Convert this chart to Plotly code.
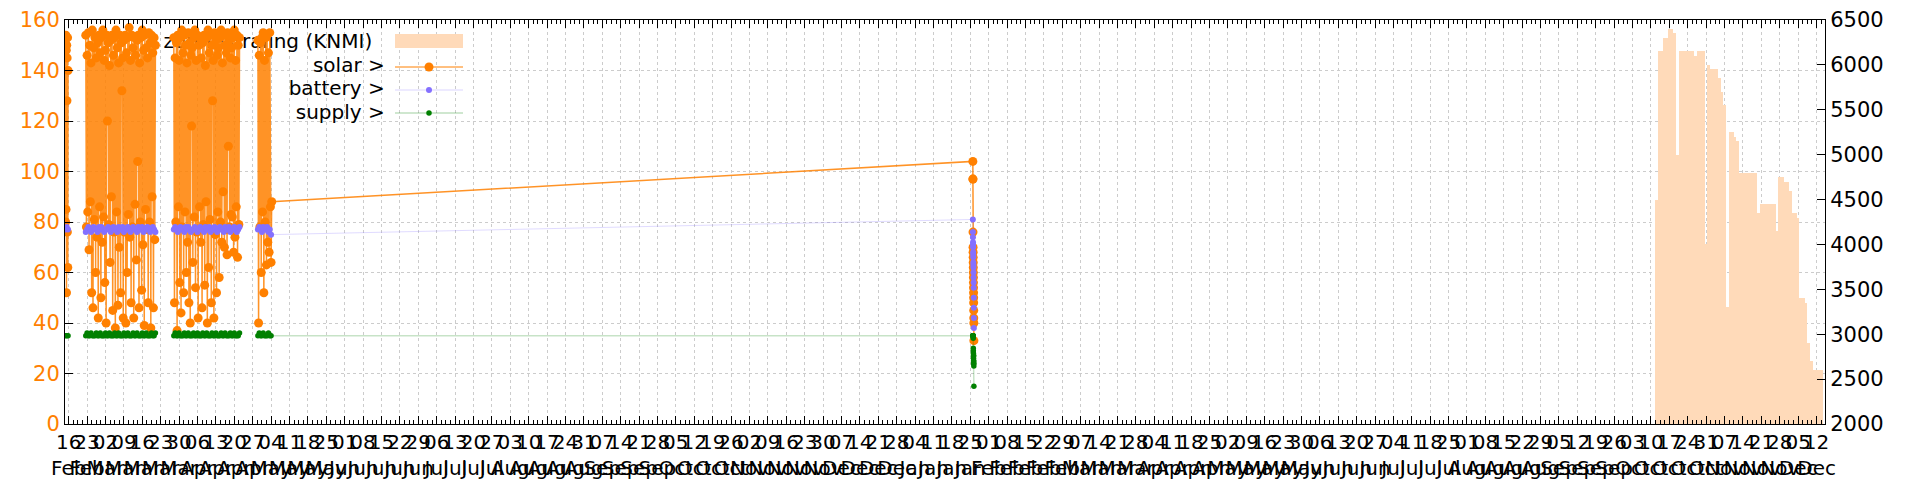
import pandas as pd
import plotly.graph_objects as go

# ---------------- data ----------------
# solar (W) — four measurement blocks in 2023 plus one short block in Jan 2024
solar_A_start, solar_A_freq = "2023-02-14 18:00", "2h"
solar_A = [152, 80, 154, 85, 148, 52, 150, 128, 145, 76, 153, 62, 140]

solar_B_start, solar_B_freq = "2023-02-22 12:00", "6h"
solar_B = [154, 78, 146, 84, 155, 69, 150, 88, 143, 52, 156, 46, 149, 81, 153, 60, 145, 74, 151, 42,
           154, 86, 147, 50, 153, 72, 156, 82, 144, 56, 148, 40, 154, 120, 151, 79, 142, 64, 152, 90,
           154, 45, 146, 76, 153, 38, 156, 84, 149, 47, 143, 70, 154, 52, 151, 132, 145, 42, 152, 76,
           154, 40, 147, 60, 153, 83, 157, 74, 144, 48, 154, 78, 149, 42, 153, 87, 146, 65, 152, 104,
           154, 46, 143, 80, 153, 53, 156, 71, 148, 39, 154, 85, 149, 77, 145, 48, 155, 80, 151, 38,
           154, 90, 147, 46, 153, 73, 150]

solar_C_start, solar_C_freq = "2023-03-28 00:00", "6h"
solar_C = [153, 48, 145, 80, 151, 37, 154, 86, 144, 56, 153, 44, 156, 78, 147, 52, 154, 84, 150, 60,
           143, 72, 155, 48, 151, 40, 146, 118, 149, 64, 153, 82, 156, 54, 144, 76, 154, 42, 150, 86,
           153, 72, 145, 46, 151, 79, 154, 55, 142, 88, 153, 40, 156, 62, 147, 81, 154, 48, 150, 128,
           144, 42, 155, 75, 152, 52, 146, 84, 149, 58, 153, 80, 156, 72, 143, 92, 154, 70, 150, 77,
           147, 67, 155, 110, 152, 78, 145, 83, 149, 82, 153, 68, 156, 74, 144, 86, 154, 66, 150, 79,
           153]

solar_D_start, solar_D_freq = "2023-04-29 00:00", "6h"
solar_D = [152, 40, 146, 78, 151, 60, 153, 84, 155, 52, 144, 80, 153, 63, 154, 72, 147, 68, 155, 86, 64, 88]

solar_E_start, solar_E_freq = "2024-01-26 00:00", "30min"
solar_E = [104, 97, 97, 76, 70, 68, 66, 64, 62, 60, 58, 56, 54, 52, 50, 48, 45, 42, 40, 33]

# battery (W)
battery_A_start, battery_A_freq = "2023-02-14 18:00", "12h"
battery_A = [77, 78, 77]
battery_B_start, battery_B_freq = "2023-02-22 12:00", "12h"
battery_B = [76, 77, 78, 77, 76, 77, 78, 77, 77, 76, 78, 77, 78, 77, 76, 77, 77, 78, 77, 76,
             77, 78, 77, 77, 76, 78, 77, 77, 78, 76, 77, 77, 78, 77, 76, 77, 78, 77, 77, 76,
             78, 77, 77, 78, 76, 77, 77, 78, 77, 76, 77, 78, 77, 76]
battery_C_start, battery_C_freq = "2023-03-28 00:00", "12h"
battery_C = [77, 78, 77, 76, 77, 78, 77, 77, 76, 78, 77, 78, 77, 76, 77, 77, 78, 77, 76, 77,
             78, 77, 77, 76, 78, 77, 77, 78, 76, 77, 77, 78, 77, 76, 77, 78, 77, 77, 76, 78,
             77, 77, 78, 76, 77, 77, 78, 77, 76, 77, 78]
battery_D_start, battery_D_freq = "2023-04-29 00:00", "12h"
battery_D = [77, 78, 77, 76, 78, 77, 77, 78, 76, 77, 75]
battery_E_start, battery_E_freq = "2024-01-26 00:00", "30min"
battery_E = [81, 76, 74, 72, 71, 70, 68, 67, 66, 64, 63, 62, 60, 58, 56, 54, 50, 46, 42, 38]

# supply (W)
supply_A = [35, 35, 35]
supply_B = [35, 36, 35, 35, 36, 35, 35, 35, 36, 35, 35, 36, 35, 35, 35, 36, 35, 35, 36, 35,
            35, 35, 36, 35, 35, 36, 35, 35, 35, 36, 35, 35, 36, 35, 35, 35, 36, 35, 35, 36,
            35, 35, 35, 36, 35, 35, 36, 35, 35, 35, 36, 35, 35, 36]
supply_C = [35, 36, 35, 35, 36, 35, 35, 35, 36, 35, 35, 36, 35, 35, 35, 36, 35, 35, 36, 35,
            35, 35, 36, 35, 35, 36, 35, 35, 35, 36, 35, 35, 36, 35, 35, 35, 36, 35, 35, 36,
            35, 35, 35, 36, 35, 35, 36, 35, 35, 35, 36]
supply_D = [35, 36, 35, 35, 36, 35, 35, 35, 36, 35, 35]
supply_E = [35, 35, 35, 35, 35, 35, 35, 34, 30, 29, 28, 27, 26, 25, 24, 27, 25, 24, 23, 15]

# zonnestraling (KNMI), daily values
straling_start = "2024-10-12"
straling = [4500, 6150, 6150, 6300, 6300, 6400, 6400, 6350, 5000, 6150, 6150, 6150, 6150, 6150, 6150, 6100,
            6150, 6150, 6150, 4000, 6000, 5950, 5950, 5950, 5850, 5700, 5550, 3300, 5250, 5250, 5200, 5150,
            4800, 4800, 4800, 4800, 4800, 4800, 4800, 4350, 4450, 4450, 4450, 4450, 4450, 4450, 4150, 4750,
            4750, 4700, 4700, 4600, 4350, 4350, 4300, 3400, 3400, 3350, 2900, 2700, 2600, 2600, 2600, 2600]

# x-axis ticks (weekly)
tick_dates = pd.date_range("2023-02-16", "2024-12-12", freq="7D")
tick_text = [d.strftime("%d") + "<br>" + d.strftime("%b") for d in tick_dates]
x_range = ["2023-02-14 14:24", "2024-12-15 05:00"]

legend_labels = ["zonnestraling (KNMI)", "solar >", "battery >", "supply >"]

# ---------------- build series ----------------
def build(segments):
    xs, ys = [], []
    n = len(segments)
    for i, (start, freq, vals) in enumerate(segments):
        t = pd.date_range(start, periods=len(vals), freq=freq)
        xs += list(t)
        ys += list(vals)
        # break the line between the 2023 blocks, but keep the long jump to 2024
        if i < n - 2:
            xs.append(None)
            ys.append(None)
    return xs, ys

solar_x, solar_y = build([(solar_A_start, solar_A_freq, solar_A), (solar_B_start, solar_B_freq, solar_B),
                          (solar_C_start, solar_C_freq, solar_C), (solar_D_start, solar_D_freq, solar_D),
                          (solar_E_start, solar_E_freq, solar_E)])
bat_x, bat_y = build([(battery_A_start, battery_A_freq, battery_A), (battery_B_start, battery_B_freq, battery_B),
                      (battery_C_start, battery_C_freq, battery_C), (battery_D_start, battery_D_freq, battery_D),
                      (battery_E_start, battery_E_freq, battery_E)])
sup_x, sup_y = build([(battery_A_start, battery_A_freq, supply_A), (battery_B_start, battery_B_freq, supply_B),
                      (battery_C_start, battery_C_freq, supply_C), (battery_D_start, battery_D_freq, supply_D),
                      (battery_E_start, battery_E_freq, supply_E)])

ORANGE = "#ff8000"
PURPLE = "#8470ff"
GREEN = "#008000"
PEACH = "#ffdab9"
FONT = "DejaVu Sans"

# page body has an 8px margin: plot area should land at x 65..1825, y 20..~423 of the window
L, T = 57, 12
FIG_W, FIG_H = 1912, 472
PLOT_W, PLOT_H = 1760, 404

fig = go.Figure()

# key text (drawn first so data covers it, as in the original)
fig.add_trace(go.Scatter(
    x=["2023-06-11 12:00", "2023-06-16 06:00", "2023-06-16 06:00", "2023-06-16 06:00"],
    y=[150.8, 141.2, 132.1, 122.9],
    mode="text", text=legend_labels, textposition="middle left",
    textfont=dict(family=FONT, size=20, color="black"),
    hoverinfo="skip", showlegend=False, cliponaxis=False))

fig.add_trace(go.Bar(
    x=pd.date_range(straling_start, periods=len(straling), freq="D"), y=straling,
    width=86400000, marker=dict(color=PEACH, line=dict(width=0)),
    yaxis="y2", name="zonnestraling (KNMI)"))

fig.add_trace(go.Scatter(
    x=solar_x, y=solar_y, mode="lines+markers", name="solar",
    line=dict(color="rgba(255,128,0,0.85)", width=1.5),
    marker=dict(color=ORANGE, size=9), connectgaps=False))

fig.add_trace(go.Scatter(
    x=bat_x, y=bat_y, mode="lines+markers", name="battery",
    line=dict(color="rgba(132,112,255,0.25)", width=1),
    marker=dict(color=PURPLE, size=6), connectgaps=False))

fig.add_trace(go.Scatter(
    x=sup_x, y=sup_y, mode="lines+markers", name="supply",
    line=dict(color="rgba(0,128,0,0.22)", width=1.5),
    marker=dict(color=GREEN, size=5.5), connectgaps=False))

# manual gnuplot-style key samples (window pixel -> paper coords)
def px(X):
    return (X - 65) / PLOT_W

def py(Y):
    return (20 + PLOT_H - Y) / PLOT_H

shapes = [
    dict(type="rect", xref="paper", yref="paper", x0=px(395), x1=px(463), y0=py(48), y1=py(34),
         fillcolor=PEACH, line=dict(width=0)),
    dict(type="line", xref="paper", yref="paper", x0=px(395), x1=px(463), y0=py(67), y1=py(67),
         line=dict(color=ORANGE, width=1)),
    dict(type="line", xref="paper", yref="paper", x0=px(395), x1=px(463), y0=py(90), y1=py(90),
         line=dict(color="rgba(132,112,255,0.3)", width=1)),
    dict(type="line", xref="paper", yref="paper", x0=px(395), x1=px(463), y0=py(113), y1=py(113),
         line=dict(color="rgba(0,128,0,0.25)", width=1.5)),
]
for Y, col, r in [(67, ORANGE, 4.5), (90, PURPLE, 3), (113, GREEN, 2.75)]:
    shapes.append(dict(type="circle", xref="paper", yref="paper", xsizemode="pixel", ysizemode="pixel",
                       xanchor=px(429), yanchor=py(Y), x0=-r, x1=r, y0=-r, y1=r,
                       fillcolor=col, line=dict(width=0)))

fig.update_layout(
    width=FIG_W, height=FIG_H,
    margin=dict(l=L, r=FIG_W - L - PLOT_W, t=T, b=FIG_H - T - PLOT_H, autoexpand=False),
    plot_bgcolor="white", paper_bgcolor="white",
    font=dict(family=FONT, size=20, color="black"),
    showlegend=False,
    bargap=0,
    shapes=shapes,
    xaxis=dict(
        type="date", range=x_range, automargin=False,
        tickmode="array", tickvals=tick_dates, ticktext=tick_text, tickangle=0,
        ticks="inside", ticklen=8, tickcolor="black", tickwidth=1,
        showline=True, linecolor="black", linewidth=1, mirror="ticks",
        showgrid=True, gridcolor="#cccccc", griddash="dot", gridwidth=1,
        tickfont=dict(family=FONT, size=20, color="black"),
        minor=dict(ticks="inside", ticklen=4, tickcolor="black", tickmode="linear",
                   tick0="2023-02-16", dtick=151200000, showgrid=False),
        zeroline=False,
    ),
    yaxis=dict(
        range=[0, 160], dtick=20, tick0=0, automargin=False,
        ticks="inside", ticklen=8, tickcolor="black",
        showline=True, linecolor="black", linewidth=1,
        showgrid=True, gridcolor="#cccccc", griddash="dot", gridwidth=1,
        tickfont=dict(family=FONT, size=21, color=ORANGE),
        zeroline=False,
    ),
    yaxis2=dict(
        overlaying="y", side="right", automargin=False,
        range=[2000, 6500], dtick=500, tick0=2000,
        ticks="inside", ticklen=8, tickcolor="black",
        showline=True, linecolor="black", linewidth=1,
        showgrid=False, zeroline=False,
        tickfont=dict(family=FONT, size=21, color="black"),
    ),
)

fig.write_html("out.html")
